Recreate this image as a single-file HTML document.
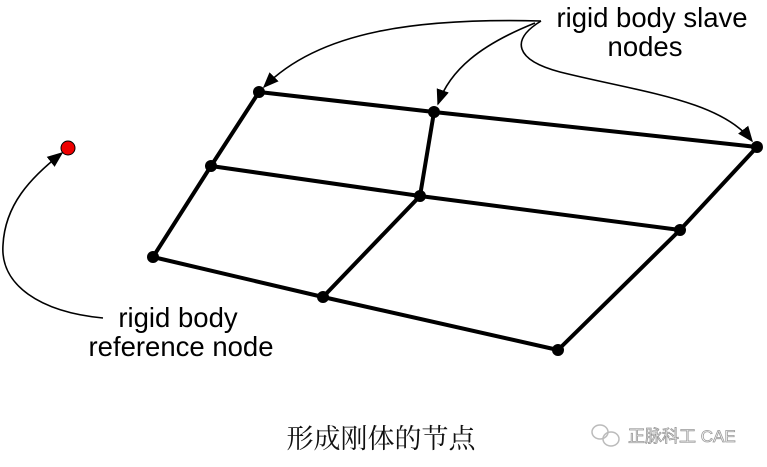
<!DOCTYPE html>
<html><head><meta charset="utf-8"><style>
html,body{margin:0;padding:0;background:#fff;width:767px;height:467px;overflow:hidden}
svg{display:block}
</style></head><body>
<svg width="767" height="467" viewBox="0 0 767 467" xmlns="http://www.w3.org/2000/svg">
<defs>
<marker id="a" viewBox="0 0 10 10" refX="9" refY="5" markerWidth="16" markerHeight="16" markerUnits="userSpaceOnUse" orient="auto">
<path d="M0,1 L10,5 L0,9 Z" fill="#000"/>
</marker>
</defs>
<g stroke="#000" stroke-width="4" fill="none" stroke-linecap="round">
<polyline points="259,92 434,112 757,147"/>
<polyline points="211,166 420,196 680,230"/>
<polyline points="153,257 323,297 558,350"/>
<polyline points="259,92 211,166 153,257"/>
<polyline points="434,112 420,196 323,297"/>
<polyline points="757,147 680,230 558,350"/>
</g>
<g fill="#000">
<circle cx="259" cy="92" r="6"/><circle cx="434" cy="112" r="6"/><circle cx="757" cy="147" r="6"/>
<circle cx="211" cy="166" r="6"/><circle cx="420" cy="196" r="6"/><circle cx="680" cy="230" r="6"/>
<circle cx="153" cy="257" r="6"/><circle cx="323" cy="297" r="6"/><circle cx="558" cy="350" r="6"/>
</g>
<circle cx="68" cy="148" r="7" fill="#e00" stroke="#000" stroke-width="1"/>
<g stroke="#000" stroke-width="1.6" fill="none">
<path d="M541,21 C420,18 320,30 264,87" marker-end="url(#a)"/>
<path d="M535,23 C480,45 450,70 438,104" marker-end="url(#a)"/>
<path d="M541,21 C510,40 515,60 560,72 C640,92 720,100 752,141" marker-end="url(#a)"/>
<path d="M103,318 C40,312 0,285 3,245 C5,205 30,178 62,153" marker-end="url(#a)"/>
</g>
<g font-family="Liberation Sans, sans-serif" font-size="27.5" fill="#000" text-anchor="middle">
<text x="652" y="27">rigid body slave</text>
<text x="645" y="56">nodes</text>
<text x="178" y="327">rigid body</text>
<text x="181" y="356">reference node</text>
</g>
<text x="381" y="448" font-family="Liberation Serif, 'Noto Serif CJK SC', serif" font-size="27" text-anchor="middle" fill="#111">形成刚体的节点</text>
<g fill="none" stroke="#bbb" stroke-width="1.5">
<ellipse cx="600" cy="432" rx="8" ry="7"/><ellipse cx="611" cy="439" rx="8" ry="7"/>
</g>
<text x="628" y="442" font-family="Liberation Sans, 'Noto Sans CJK SC', sans-serif" font-size="17" fill="#fff" stroke="#999" stroke-width="0.8">正脉科工 CAE</text>
</svg>
</body></html>
